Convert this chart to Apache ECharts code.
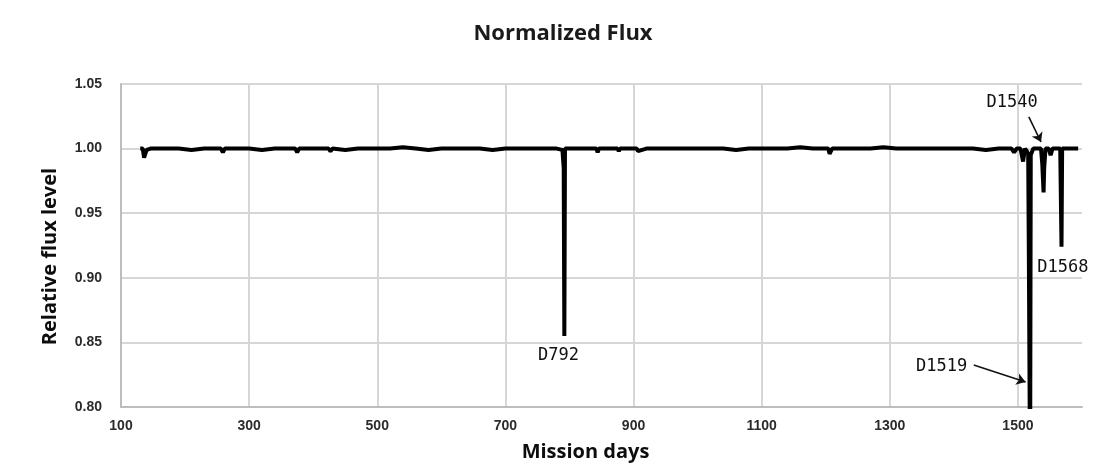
<!DOCTYPE html>
<html>
<head>
<meta charset="utf-8">
<style>
  html, body { margin: 0; padding: 0; background: #fff; }
  #chart { width: 1095px; height: 470px; }
</style>
<script src="https://cdn.jsdelivr.net/npm/echarts@6/dist/echarts.min.js"></script>
</head>
<body>
<div id="chart"></div>
<script>
// mission day of each sample
const days = [
  130, 134, 136, 140, 146, 170, 190, 210, 230, 250, 256, 259, 262, 280, 300, 320, 340, 360,
  372, 375, 378, 400, 424, 427, 430, 450, 470, 480, 500, 520, 540, 560, 580, 600, 620, 640,
  660, 680, 700, 720, 740, 760, 780, 789, 790, 791, 792, 793, 795, 810, 830, 842, 844, 846,
  860, 875, 877, 879, 900, 905, 907, 920, 940, 960, 980, 1000, 1020, 1040, 1060, 1080, 1100,
  1120, 1140, 1160, 1180, 1200, 1204, 1206, 1210, 1230, 1250, 1270, 1290, 1310, 1330, 1350,
  1370, 1390, 1410, 1430, 1450, 1470, 1490, 1494, 1498, 1504, 1508, 1511, 1514, 1516, 1517,
  1519, 1520, 1524, 1530, 1536, 1538, 1540, 1541, 1543, 1548, 1551, 1554, 1560, 1566, 1568,
  1569, 1575, 1585, 1594
]
// relative flux of each sample
const flux = [
  1.000, 1.000, 0.993, 0.999, 1.000, 1.000, 1.000, 0.999, 1.000, 1.000, 1.000, 0.997, 1.000, 1.000, 1.000, 0.999, 1.000, 1.000,
  1.000, 0.997, 1.000, 1.000, 1.000, 0.998, 1.000, 0.999, 1.000, 1.000, 1.000, 1.000, 1.001, 1.000, 0.999, 1.000, 1.000, 1.000,
  1.000, 0.999, 1.000, 1.000, 1.000, 1.000, 1.000, 0.999, 1.000, 0.985, 0.855, 1.000, 1.000, 1.000, 1.000, 1.000, 0.997, 1.000,
  1.000, 1.000, 0.998, 1.000, 1.000, 1.000, 0.998, 1.000, 1.000, 1.000, 1.000, 1.000, 1.000, 1.000, 0.999, 1.000, 1.000,
  1.000, 1.000, 1.001, 1.000, 1.000, 1.000, 0.996, 1.000, 1.000, 1.000, 1.000, 1.001, 1.000, 1.000, 1.000,
  1.000, 1.000, 1.000, 1.000, 0.999, 1.000, 1.000, 0.997, 1.000, 1.000, 0.990, 1.000, 0.998, 0.996, 0.920,
  0.740, 0.995, 1.000, 1.000, 1.000, 0.988, 0.966, 0.985, 1.000, 1.000, 0.995, 1.000, 1.000, 1.000, 0.924,
  1.000, 1.000, 1.000, 1.000
]
// axis setup
const xMin = 100
const xMax = 1600
const xStep = 200
const yMin = 0.8
const yMax = 1.05
const yStep = 0.05
// annotations: label, label anchor, arrow (from -> to)
const notes = [
  { name: 'D792', at: [783, 0.840] },
  { name: 'D1519', at: [1381, 0.831], arrow: [[1431, 0.8325], [1512, 0.8194]] },
  { name: 'D1540', at: [1491, 1.036], arrow: [[1517, 1.0245], [1536, 1.0051]] },
  { name: 'D1568', at: [1570, 0.9076] }
]

const gridColor = '#d6d6d6'
const axisColor = '#bdbdbd'
const labelFont = "'Liberation Sans', Arial, sans-serif"
const nameFont = "'Open Sans', sans-serif"

const chart = echarts.init(document.getElementById('chart'))
const option = {
  backgroundColor: '#fff',
  animation: false,
  title: {
    text: 'Normalized Flux',
    left: 558,
    top: 18,
    textAlign: 'center',
    textStyle: {
      fontFamily: nameFont,
      fontWeight: 'bold',
      fontSize: 22,
      color: '#1a1a1a'
    }
  },
  grid: {
    left: 121,
    right: 13,
    top: 84,
    bottom: 63
  },
  xAxis: {
    type: 'value',
    min: xMin,
    max: xMax,
    interval: xStep,
    name: 'Mission days',
    nameLocation: 'middle',
    nameGap: 35,
    nameTextStyle: {
      fontFamily: nameFont,
      fontWeight: 'bold',
      fontSize: 20,
      color: '#0d0d0d',
      padding: [0, 32, 0, 0]
    },
    axisLine: { show: true, lineStyle: { color: axisColor, width: 2 } },
    axisTick: { show: false },
    axisLabel: {
      margin: 12,
      showMaxLabel: false,
      fontFamily: labelFont,
      fontWeight: 'bold',
      fontSize: 14,
      color: '#2b2b2b',
      formatter: v => (v === xMax ? '' : String(v))
    },
    splitLine: {
      show: true,
      showMaxLine: false,
      lineStyle: { color: gridColor, width: 2 }
    }
  },
  yAxis: {
    type: 'value',
    min: yMin,
    max: yMax,
    interval: yStep,
    name: 'Relative flux level',
    nameLocation: 'middle',
    nameGap: 61,
    nameTextStyle: {
      fontFamily: nameFont,
      fontWeight: 'bold',
      fontSize: 20,
      color: '#0d0d0d',
      padding: [0, 22, 0, 0]
    },
    axisLine: { show: true, lineStyle: { color: axisColor, width: 2 } },
    axisTick: { show: false },
    axisLabel: {
      margin: 19,
      fontFamily: labelFont,
      fontWeight: 'bold',
      fontSize: 14,
      color: '#2b2b2b',
      formatter: v => v.toFixed(2)
    },
    splitLine: {
      show: true,
      lineStyle: { color: gridColor, width: 2 }
    }
  },
  series: [
    {
      name: 'Flux',
      type: 'line',
      data: days.map((d, i) => [d, flux[i]]),
      showSymbol: false,
      lineStyle: { color: '#000', width: 4 },
      clip: true,
      markPoint: {
        symbol: 'circle',
        symbolSize: 0,
        silent: true,
        label: {
          show: true,
          position: 'inside',
          formatter: '{b}',
          fontFamily: "'DejaVu Sans Mono', monospace",
          fontSize: 17,
          color: '#111'
        },
        data: notes.map(n => ({ name: n.name, coord: n.at }))
      },
      markLine: {
        silent: true,
        symbol: ['none', 'arrow'],
        symbolSize: 9,
        label: { show: false },
        lineStyle: { color: '#111', width: 1.6, type: 'solid' },
        data: notes
          .filter(n => n.arrow)
          .map(n => [{ coord: n.arrow[0] }, { coord: n.arrow[1] }])
      }
    }
  ]
}
chart.setOption(option)
</script>
</body>
</html>
